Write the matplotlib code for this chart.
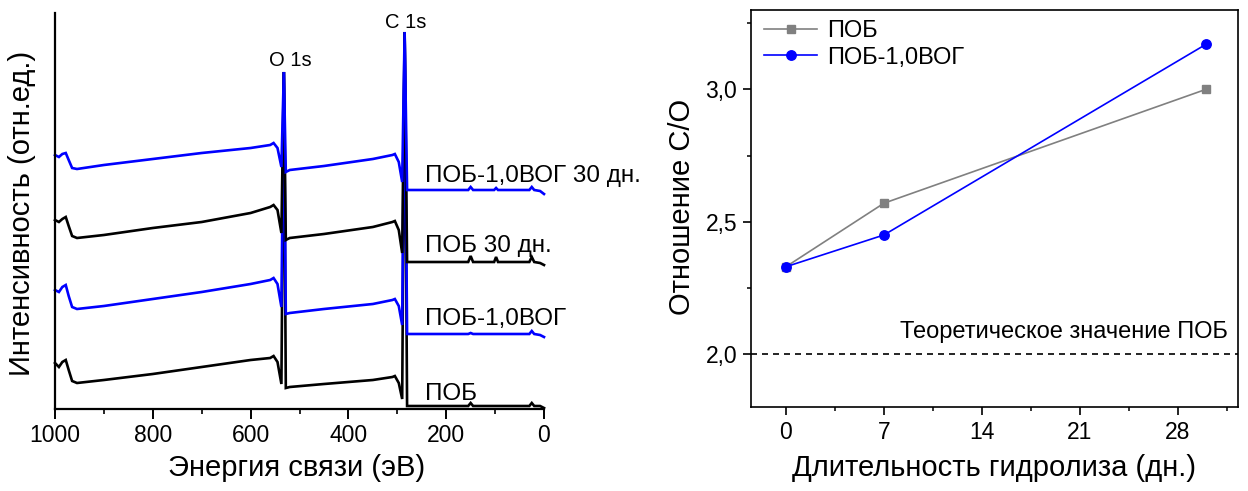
import matplotlib
matplotlib.use("Agg")
import matplotlib.pyplot as plt
from matplotlib.ticker import MultipleLocator, FixedLocator, FuncFormatter

plt.rcParams['font.family'] = ['Liberation Sans', 'DejaVu Sans']

# ---- XPS survey spectra (binding energy, eV; intensity, arb. units, offset) ----
energy = [1000, 992, 985, 978, 972, 965, 955, 900, 800, 700, 600, 560, 553, 545,
          537, 532, 528, 520, 450, 350, 310, 305, 297, 290, 285, 280, 200, 155,
          150, 145, 102, 98, 94, 30, 25, 20, 8, 0]

pob = [46, 42, 47, 49, 39, 28, 26, 29, 35, 42, 49, 51, 53, 47,
       25, 337, 21, 22, 25, 29, 32, 33, 26, 10, 377, 3, 3, 3,
       6, 3, 3, 3, 3, 3, 6, 3, 3, 1]

pob_vog = [119, 117, 122, 124, 113, 102, 100, 103, 110, 117, 125, 129, 131, 125,
           102, 337, 95, 96, 100, 105, 109, 110, 103, 84, 377, 75, 75, 75,
           76, 75, 75, 75, 75, 75, 78, 75, 74, 72]

pob_30 = [189, 187, 190, 192, 183, 173, 171, 174, 181, 187, 196, 202, 204, 199,
          176, 337, 169, 171, 175, 182, 187, 188, 179, 156, 377, 147, 147, 147,
          153, 147, 147, 152, 147, 147, 152, 147, 146, 144]

pob_vog_30 = [254, 252, 255, 256, 249, 241, 240, 244, 250, 256, 261, 264, 266, 261,
              242, 337, 237, 239, 243, 250, 254, 255, 247, 227, 377, 219, 219, 219,
              222, 219, 219, 221, 219, 219, 222, 219, 218, 215]

spectrum_labels = ["ПОБ", "ПОБ-1,0ВОГ", "ПОБ 30 дн.", "ПОБ-1,0ВОГ 30 дн."]
spectrum_label_y = [9, 84, 157, 227]

# ---- C/O ratio vs hydrolysis time ----
days = [0, 7, 30]
co_pob = [2.33, 2.57, 3.00]
co_pob_vog = [2.33, 2.45, 3.17]
co_theory = 2.0

W, H = 1248, 491
fig = plt.figure(figsize=(W / 100, H / 100), dpi=100)


def axes_px(left, top, right, bottom):
    return fig.add_axes([left / W, 1 - bottom / H, (right - left) / W, (bottom - top) / H])


BLUE = '#0000ff'
GREY = '#808080'

# ---------------- left panel ----------------
ax1 = axes_px(55, 13, 544, 409)
spectra = [(pob, 'black'), (pob_vog, BLUE), (pob_30, 'black'), (pob_vog_30, BLUE)]
for vals, col in spectra:
    ax1.plot(energy, vals, color=col, lw=1.9, solid_joinstyle='miter', clip_on=False)

ax1.set_xlim(1000, 0)
ax1.set_ylim(0, 396)
for s in ('top', 'right'):
    ax1.spines[s].set_visible(False)
for s in ('left', 'bottom'):
    ax1.spines[s].set_linewidth(1.6)
ax1.set_yticks([])
ax1.xaxis.set_major_locator(MultipleLocator(200))
ax1.xaxis.set_minor_locator(MultipleLocator(100))
ax1.tick_params(axis='x', which='major', direction='out', length=7, width=1.4,
                labelsize=16.5, pad=4)
ax1.tick_params(axis='x', which='minor', direction='out', length=3.5, width=1.2)

for lab, yv in zip(spectrum_labels, spectrum_label_y):
    ax1.text(243, yv, lab, fontsize=17.5, ha='left', va='baseline')

ax1.text(519, 343, "O 1s", fontsize=14.5, ha='center', va='baseline')
ax1.text(282, 381, "C 1s", fontsize=14.5, ha='center', va='baseline')

ax1.set_xlabel("Энергия связи (эВ)", fontsize=21, va='center')
ax1.xaxis.set_label_coords(0.495, -0.149)
ax1.set_ylabel("Интенсивность (отн.ед.)", fontsize=21, va='center')
ax1.yaxis.set_label_coords(-0.0675, 0.495)

# ---------------- right panel ----------------
ax2 = axes_px(751, 10, 1238, 407)
ax2.plot(days, co_pob, color=GREY, lw=1.2, marker='s', ms=5.8, label="ПОБ")
ax2.plot(days, co_pob_vog, color=BLUE, lw=1.2, marker='o', ms=6.8, label="ПОБ-1,0ВОГ")
ax2.axhline(co_theory, color='black', lw=1.2, linestyle=(0, (3.6, 3.0)))
ax2.text(31.6, 2.06, "Теоретическое значение ПОБ", fontsize=17, ha='right', va='baseline')

ax2.set_xlim(-2.5, 32.3)
ax2.set_ylim(1.8, 3.3)
ax2.xaxis.set_major_locator(FixedLocator([0, 7, 14, 21, 28]))
ax2.xaxis.set_minor_locator(FixedLocator([3.5, 10.5, 17.5, 24.5, 31.5]))
ax2.yaxis.set_major_locator(FixedLocator([2.0, 2.5, 3.0]))
ax2.yaxis.set_minor_locator(FixedLocator([2.25, 2.75, 3.25]))
ax2.yaxis.set_major_formatter(FuncFormatter(lambda v, p: f"{v:.1f}".replace('.', ',')))
for s in ax2.spines.values():
    s.set_linewidth(1.2)
ax2.tick_params(which='major', direction='out', length=6, width=1.2, labelsize=16.5, pad=4)
ax2.tick_params(which='minor', direction='out', length=3, width=1.1)

ax2.set_xlabel("Длительность гидролиза (дн.)", fontsize=21, va='center')
ax2.xaxis.set_label_coords(0.5, -0.154)
ax2.set_ylabel("Отношение С/О", fontsize=21, va='center')
ax2.yaxis.set_label_coords(-0.1417, 0.504)

ax2.legend(loc='upper left', bbox_to_anchor=(0.027, 0.975), frameon=False, fontsize=17,
           handlelength=2.25, handletextpad=0.4, labelspacing=0.2, borderaxespad=0.0,
           borderpad=0.0)

fig.savefig("out.png", dpi=100)
